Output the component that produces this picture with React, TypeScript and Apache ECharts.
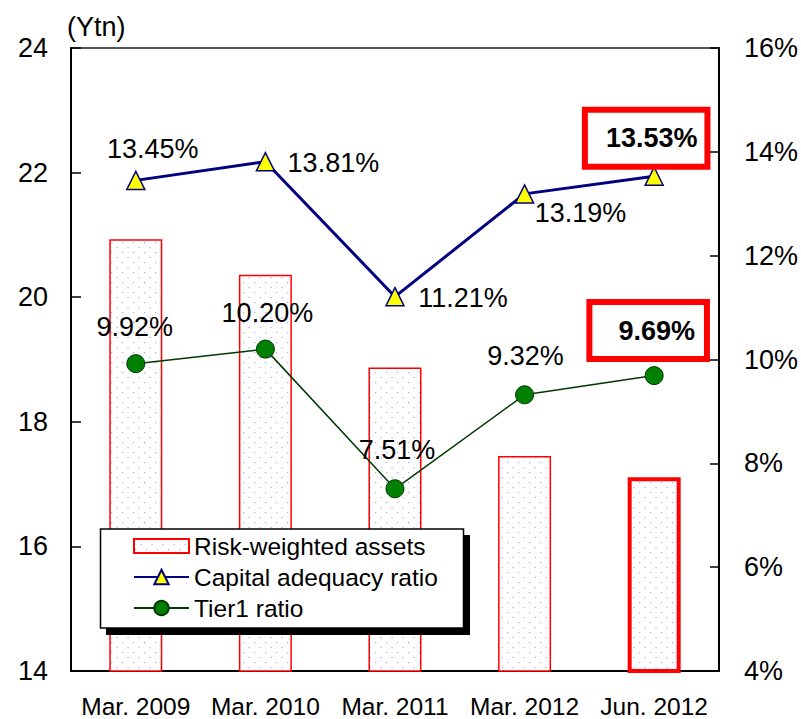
import React, { useEffect, useRef } from "react";
import * as echarts from "echarts";

const categories = ["Mar. 2009", "Mar. 2010", "Mar. 2011", "Mar. 2012", "Jun. 2012"];
const riskWeightedAssets = [20.93, 20.36, 18.87, 17.45, 17.11];
const capitalAdequacyRatio = [13.45, 13.81, 11.21, 13.19, 13.53];
const tier1Ratio = [9.92, 10.2, 7.51, 9.32, 9.69];

// label offsets (style only)
const carLabelOffsets = [[17, -31], [68, 1], [68, 1], [56, 19], [-8, -38]];
const tierLabelOffsets = [[-1, -37], [2, -36], [2, -39], [1, -39], [-6, -45]];

const FONT = "'Liberation Sans', Arial, Helvetica, sans-serif";

function makePattern(): string {
  const c = document.createElement("canvas");
  c.width = 11;
  c.height = 10;
  const ctx = c.getContext("2d")!;
  ctx.fillStyle = "#ffffff";
  ctx.fillRect(0, 0, 11, 10);
  ctx.fillStyle = "#a8a8ff";
  ctx.fillRect(1, 2, 1.2, 1.2);
  ctx.fillRect(6.5, 7, 1.2, 1.2);
  return c.toDataURL();
}

export default function App() {
  const ref = useRef<HTMLDivElement>(null);
  useEffect(() => {
    if (!ref.current) return;
    const chart = echarts.init(ref.current, null, { renderer: "svg" });
    const pattern = { image: makePattern(), repeat: "repeat", imageWidth: 11, imageHeight: 10 };
    const fmt = (p: any) => Number(p.value).toFixed(2) + "%";
    const boxed = (pad: number[]) => ({
      fontWeight: "bold",
      fontSize: 27,
      backgroundColor: "#ffffff",
      borderColor: "#ff0000",
      borderWidth: 6,
      padding: pad,
    });
    const option: any = {
      animation: false,
      backgroundColor: "#ffffff",
      textStyle: { fontFamily: FONT, color: "#000" },
      grid: {
        left: 71,
        right: 82,
        top: 48,
        bottom: 47,
        show: true,
        borderColor: "#555555",
        borderWidth: 2,
        backgroundColor: "transparent",
      },
      legend: {
        orient: "vertical",
        left: 128,
        top: 528.5,
        itemWidth: 55,
        itemHeight: 18,
        itemGap: 6,
        selectedMode: false,
        z: 10,
        textStyle: { fontSize: 24.5, color: "#000", fontFamily: FONT },
        data: [
          { name: "Risk-weighted assets", icon: "path://M0,0L55,0L55,14L0,14Z" },
          { name: "Capital adequacy ratio" },
          { name: "Tier1 ratio" },
        ],
      },
      graphic: [
        {
          type: "rect",
          z: 5,
          shape: { x: 106, y: 535, width: 364, height: 100 },
          style: { fill: "#000000" },
        },
        {
          type: "rect",
          z: 6,
          shape: { x: 100.5, y: 529, width: 363, height: 99 },
          style: { fill: "#ffffff", stroke: "#000000", lineWidth: 1.5 },
        },
      ],
      xAxis: {
        type: "category",
        data: categories,
        boundaryGap: true,
        axisLine: { lineStyle: { color: "#000", width: 2 } },
        axisTick: { inside: true, length: 7, lineStyle: { color: "#000", width: 1.5 } },
        axisLabel: { interval: 0, fontSize: 24.5, color: "#000", margin: 23, fontFamily: FONT },
        splitLine: { show: false },
      },
      yAxis: [
        {
          type: "value",
          min: 14,
          max: 24,
          interval: 2,
          position: "left",
          name: "(Ytn)",
          nameLocation: "end",
          nameGap: 8,
          nameTextStyle: { fontSize: 27, color: "#000", align: "left", padding: [0, 0, 0, -4], fontFamily: FONT },
          axisLine: { show: true, lineStyle: { color: "#000", width: 2 } },
          axisTick: { show: true, inside: true, length: 10, lineStyle: { color: "#000", width: 1.5 } },
          axisLabel: { fontSize: 27, color: "#000", margin: 23, fontFamily: FONT },
          splitLine: { show: false },
        },
        {
          type: "value",
          min: 4,
          max: 16,
          interval: 2,
          position: "right",
          axisLine: { show: true, lineStyle: { color: "#000", width: 2 } },
          axisTick: { show: true, inside: true, length: 9, lineStyle: { color: "#000", width: 1.5 } },
          axisLabel: { fontSize: 27, color: "#000", margin: 25, formatter: "{value}%", fontFamily: FONT },
          splitLine: { show: false },
        },
      ],
      series: [
        {
          name: "Risk-weighted assets",
          type: "bar",
          yAxisIndex: 0,
          barWidth: 53,
          z: 2,
          itemStyle: { color: pattern, borderColor: "#ff0000", borderWidth: 1.5 },
          data: riskWeightedAssets.map((v, i) =>
            i === riskWeightedAssets.length - 1
              ? { value: v, itemStyle: { borderWidth: 4 } }
              : v
          ),
        },
        {
          name: "Capital adequacy ratio",
          type: "line",
          yAxisIndex: 1,
          z: 3,
          symbol: "triangle",
          symbolSize: [18, 18],
          lineStyle: { color: "#000080", width: 3 },
          itemStyle: { color: "#ffff00", borderColor: "#000080", borderWidth: 1.5 },
          label: {
            show: true,
            position: "inside",
            formatter: fmt,
            fontSize: 27,
            color: "#000",
            fontFamily: FONT,
          },
          data: capitalAdequacyRatio.map((v, i) => ({
            value: v,
            label: {
              offset: carLabelOffsets[i],
              ...(i === 4 ? boxed([12, 7, 12, 18]) : {}),
            },
          })),
        },
        {
          name: "Tier1 ratio",
          type: "line",
          yAxisIndex: 1,
          z: 3,
          symbol: "circle",
          symbolSize: 18,
          lineStyle: { color: "#003800", width: 1.5 },
          itemStyle: { color: "#008000", borderColor: "#003800", borderWidth: 1 },
          label: {
            show: true,
            position: "inside",
            formatter: fmt,
            fontSize: 27,
            color: "#000",
            fontFamily: FONT,
          },
          data: tier1Ratio.map((v, i) => ({
            value: v,
            label: {
              offset: tierLabelOffsets[i],
              ...(i === 4 ? boxed([12, 9, 12, 26]) : {}),
            },
          })),
        },
      ],
    };
    chart.setOption(option);
    return () => chart.dispose();
  }, []);
  return <div ref={ref} style={{ width: 801, height: 719, position: "absolute", left: 0, top: 0 }} />;
}
